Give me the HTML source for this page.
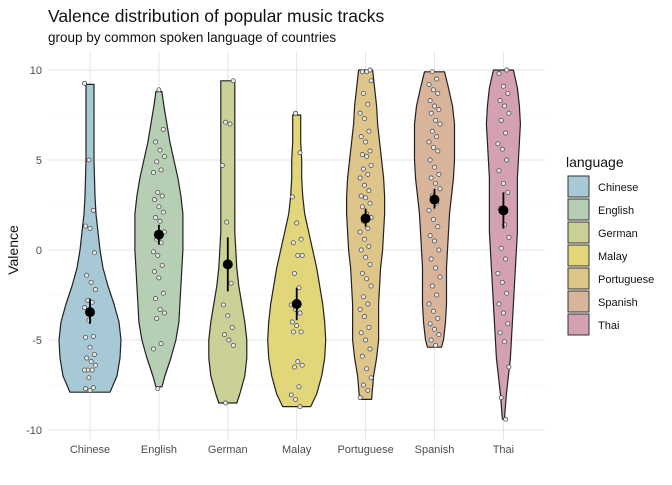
<!DOCTYPE html>
<html><head><meta charset="utf-8"><style>
body{margin:0;background:#fff;font-family:"Liberation Sans",sans-serif}
text{font-family:"Liberation Sans",sans-serif}
</style></head><body>
<svg id="c" width="672" height="480" xmlns="http://www.w3.org/2000/svg">
<text x="48" y="22" font-size="17.5" fill="#111">Valence distribution of popular music tracks</text>
<text x="48" y="42" font-size="13.5" fill="#111">group by common spoken language of countries</text>
<g id="grid"></g>
<g id="plot"></g>
<text transform="translate(18,250) rotate(-90)" text-anchor="middle" font-size="14" fill="#111">Valence</text>
<g id="legend"></g>
</svg>
<script>
const categories=["Chinese","English","German","Malay","Portuguese","Spanish","Thai"];
const colors=["#a7c9d6","#b6ceb3","#cbd196","#e2d67b","#dec58a","#d8b49b","#d4a1b1"];
const yTicks=[-10,-5,0,5,10];
const means=[-3.45,0.85,-0.8,-3.0,1.75,2.8,2.2];
const ciLow=[-4.1,0.3,-2.3,-3.9,1.3,2.3,1.2];
const ciHigh=[-2.7,1.4,0.7,-2.1,2.3,3.4,3.2];
const profVals=[
[-7.9,-7,-6,-5,-4,-3,-2,-1,0,1,2,3,4,5,6,7,8,9.2],
[-7.6,-7,-6,-5,-4,-3,-2,-1,0,1,2,3,4,5,6,7,8,8.8],
[-8.5,-8,-7,-6,-5,-4,-3,-2,-1,0,1,2,3,4,5,6,7,8,9,9.4],
[-8.7,-8,-7,-6,-5,-4,-3,-2,-1,0,1,2,3,4,5,6,7,7.5],
[-8.3,-7,-6,-5,-4,-3,-2,-1,0,1,2,3,4,5,6,7,8,9,10],
[-5.4,-5,-4,-3,-2,-1,0,1,2,3,4,5,6,7,8,9,9.9],
[-9.4,-8,-7,-6,-5,-4,-3,-2,-1,0,1,2,3,4,5,6,7,8,9,10]];
const profDens=[
[20,27,30,31,29,24,18,13,10,8,6,5,4.5,4,4,4,4,4],
[3,6,12,17,20,21,22,23,24,24,24,22,19,15,11,8,5,3],
[9,12,17,19,19,17,14,11,9,8,7,7,7,7,7,7,7,7,7,7],
[14,20,25,28,29,28,26,23,20,16,12,8,6,5,5,4,4,4],
[6,8,11,13,13,13,14,15,17,18,19,19,18,16,14,12,11,9,7],
[7,9,11,12,12,12,13,14,15,17,19,20,20,20,18,14,10],
[1,3,5,7,8,9,10,11,12,13,14,14,14,14,15,16,17,16,14,10]];
const points=[
[9.26,5.0,2.2,1.33,1.2,-0.15,-1.4,-1.8,-2.2,-2.8,-2.9,-3.2,-3.9,-4.8,-4.85,-5.4,-5.8,-6.0,-6.2,-6.4,-6.67,-6.67,-6.67,-7.1,-7.65,-7.7,-7.8],
[8.9,6.7,6.0,5.55,5.2,4.9,4.45,4.3,3.2,3.0,2.8,2.4,2.1,1.8,1.6,1.0,0.6,0.4,-0.1,-0.3,-0.85,-1.2,-1.55,-2.4,-2.7,-3.3,-3.5,-3.8,-5.2,-5.5,-7.7],
[9.4,7.1,7.0,4.7,1.55,-1.85,-3.05,-3.65,-4.3,-4.7,-5.0,-5.3,-8.5],
[7.6,5.4,2.95,1.5,0.6,0.4,-0.3,-0.3,-1.3,-2.1,-3.05,-3.3,-3.5,-4.0,-4.2,-4.55,-4.55,-6.2,-6.4,-6.5,-7.6,-8.05,-8.3,-8.7],
[10,9.9,9.9,9.4,8.7,8.1,7.6,7.3,6.6,6.3,6.0,5.5,5.3,5.2,4.7,4.5,4.2,4.0,3.6,3.3,3.0,2.9,2.6,2.4,2.0,1.8,1.6,1.2,1.0,0.6,0.2,0.0,-0.4,-0.8,-1.3,-1.6,-2.0,-2.6,-3.0,-3.3,-3.7,-4.3,-4.6,-5.0,-5.5,-5.9,-6.6,-7.1,-7.5,-7.8,-8.2],
[9.9,9.5,9.2,8.9,8.7,8.3,8.0,7.8,7.6,7.2,7.0,6.6,6.3,6.0,5.7,5.5,5.0,4.6,4.2,4.0,3.7,3.4,3.0,2.6,2.2,1.7,1.3,0.8,0.5,0.0,-0.5,-1.0,-1.5,-2.0,-2.5,-3.0,-3.4,-3.8,-4.1,-4.4,-4.7,-5.0,-5.3],
[10,9.8,9.1,8.7,8.3,8.0,7.6,7.2,6.5,5.9,5.6,5.0,4.4,3.7,3.2,2.3,1.4,0.7,0.1,-0.5,-1.3,-1.8,-2.4,-3.0,-3.5,-4.1,-4.6,-5.1,-6.5,-8.2,-9.4]];
const NS="http://www.w3.org/2000/svg";
const L=48,R=545,T=52,B=440;
const xPos=i=>90+i*68.9;
const yPos=v=>250-v*18;
function mk(tag,attrs,parent){const e=document.createElementNS(NS,tag);for(const k in attrs)e.setAttribute(k,attrs[k]);parent.appendChild(e);return e;}
const grid=document.getElementById('grid'),plot=document.getElementById('plot'),leg=document.getElementById('legend');
for(let k=0;k<yTicks.length;k++){
  const v=yTicks[k];
  const gl=mk('line',{x1:L,x2:R,y1:yPos(v),y2:yPos(v),stroke:'#e6e6e6','stroke-width':1.1},grid);
  
  
  if(k<yTicks.length-1){
    const ml=mk('line',{x1:L,x2:R,y1:yPos(v+2.5),y2:yPos(v+2.5),stroke:'#f2f2f2','stroke-width':0.6},grid);
    
    
  }
  const t=mk('text',{x:42,y:yPos(v)+4,'text-anchor':'end','font-size':11,fill:'#4d4d4d'},grid);
  t.textContent=v;
  
  
}
categories.forEach((c,i)=>{
  const gl=mk('line',{x1:xPos(i),x2:xPos(i),y1:T,y2:B,stroke:'#e6e6e6','stroke-width':1.1},grid);
  
  
  const t=mk('text',{x:xPos(i),y:453,'text-anchor':'middle','font-size':11,fill:'#4d4d4d'},grid);
  t.textContent=c;
  
  
});
categories.forEach((c,i)=>{
  const cx=xPos(i),vs=profVals[i],ds=profDens[i];
  let right=[],left=[];
  for(let j=0;j<vs.length;j++){right.push((cx+ds[j]).toFixed(1)+','+yPos(vs[j]).toFixed(1));}
  for(let j=vs.length-1;j>=0;j--){left.push((cx-ds[j]).toFixed(1)+','+yPos(vs[j]).toFixed(1));}
  const p=mk('polygon',{points:right.concat(left).join(' '),fill:colors[i],stroke:'#222','stroke-width':1.2,'stroke-linejoin':'round'},plot);
  
  
  points[i].forEach((v,j)=>{
    const off=((j*37+i*5)%11-5)*1.1;
    const pt=mk('circle',{cx:cx+off,cy:yPos(v),r:2.1,fill:'#e6e6e6',stroke:'#444','stroke-width':0.7},plot);
    
    
  });
  const el=mk('line',{x1:cx,x2:cx,y1:yPos(ciLow[i]),y2:yPos(ciHigh[i]),stroke:'#000','stroke-width':1.8},plot);
  
  
  const m=mk('circle',{cx:cx,cy:yPos(means[i]),r:5,fill:'#000'},plot);
  
  
});
const lt=mk('text',{x:566,y:167,'font-size':14,fill:'#111'},leg);
lt.textContent='language';


categories.forEach((c,i)=>{
  const y=176+i*23;
  const r=mk('rect',{x:568,y:y,width:21,height:21,fill:colors[i],stroke:'#333','stroke-width':1},leg);
  
  
  const t=mk('text',{x:598,y:y+15,'font-size':11,fill:'#111'},leg);
  t.textContent=c;
  
  
});
</script>
</body></html>
